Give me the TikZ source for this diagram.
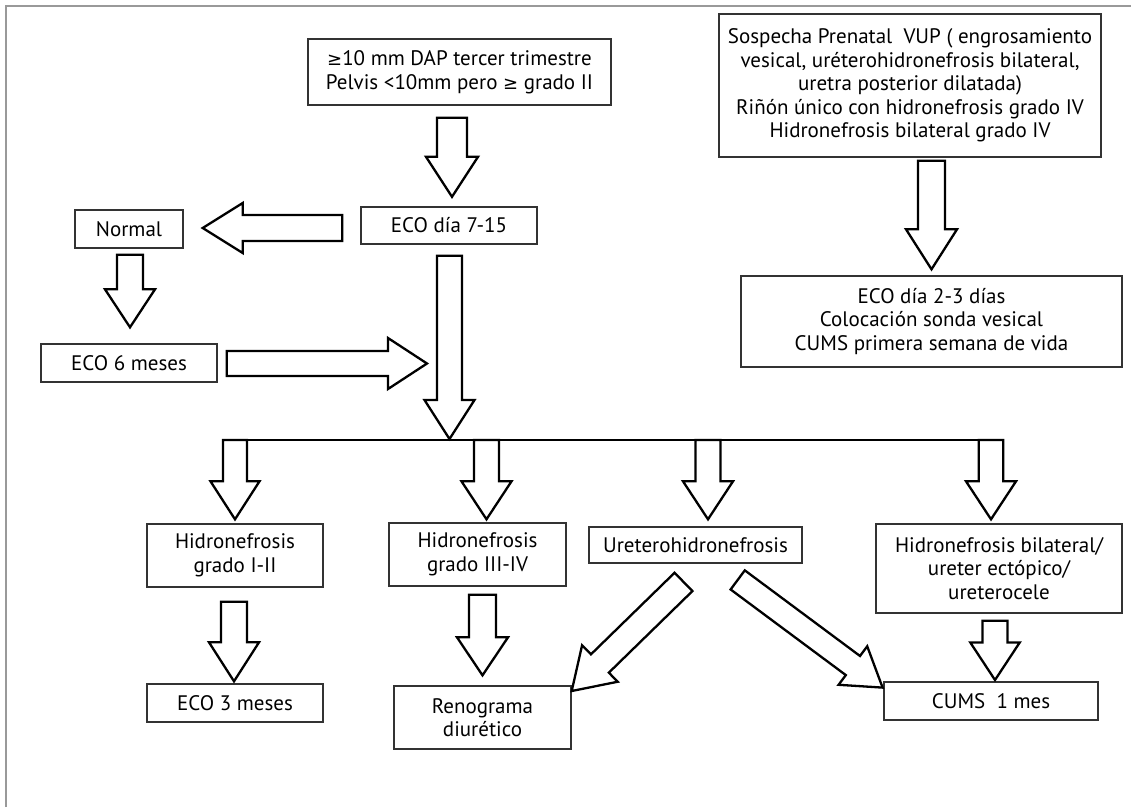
\documentclass[tikz,border=0pt]{standalone}
\usepackage{fontspec}
\setmainfont{PT Sans}
\newfontfamily\symfont{DejaVu Sans}
\usetikzlibrary{calc}
\newcommand\geqsym{{\symfont\fontsize{18}{20}\selectfont ≥}}
\newcommand\blockarrow[5]{%
  \path #1 coordinate (baS) #2 coordinate (baE);
  \pgfpointdiff{\pgfpointanchor{baS}{center}}{\pgfpointanchor{baE}{center}}%
  \pgfgetlastxy{\baDX}{\baDY}%
  \pgfmathsetmacro\baAng{atan2(\baDY,\baDX)}%
  \pgfmathsetmacro\baLen{veclen(\baDX,\baDY)}%
  \pgfmathsetmacro\baNeck{\baLen-#5}%
  \draw[blockarr, shift={(baS)}, rotate=\baAng]
    (0pt,#3pt) -- (\baNeck pt,#3pt) -- (\baNeck pt,#4pt) -- (\baLen pt,0pt)
    -- (\baNeck pt,-#4pt) -- (\baNeck pt,-#3pt) -- (0pt,-#3pt) -- cycle;
}
\begin{document}
\begin{tikzpicture}[x=1pt,y=-1pt,
  flowbox/.style={draw=black!80, line width=1.4pt, inner sep=0pt, align=center,
    font=\fontsize{21}{23.5}\selectfont, text=black},
  blockarr/.style={draw=black, line width=2.3pt, fill=white, line join=miter},
  frameline/.style={draw=black!40, line width=1.5pt},
  branchline/.style={draw=black, line width=2.3pt}]
\useasboundingbox (0,0) rectangle (1131,807);
\draw[frameline] (6,807) -- (6,6) -- (1131,6);

\node[flowbox, minimum width=303pt, minimum height=66pt] (top) at (459.5,72)
  {\geqsym10 mm DAP tercer trimestre\\Pelvis <10mm pero \geqsym\ grado II};
\node[flowbox, minimum width=382pt, minimum height=143pt] (vup) at (910,85.5)
  {Sospecha Prenatal\ \ VUP ( engrosamiento\\vesical, uréterohidronefrosis bilateral,\\uretra posterior dilatada)\\Riñón único con hidronefrosis grado IV\\Hidronefrosis bilateral grado IV};
\node[flowbox, minimum width=381pt, minimum height=91pt] (eco23) at (931.5,321.5)
  {ECO día 2-3 días\\Colocación sonda vesical\\CUMS primera semana de vida};
\node[flowbox, minimum width=176pt, minimum height=37pt] (eco715) at (449,225.5) {ECO día 7-15};
\node[flowbox, minimum width=108pt, minimum height=38pt] (normal) at (129,229) {Normal};
\node[flowbox, minimum width=176pt, minimum height=38pt] (eco6) at (129,363) {ECO 6 meses};
\node[flowbox, minimum width=176pt, minimum height=63pt] (h12) at (235,555.5) {Hidronefrosis\\grado I-II};
\node[flowbox, minimum width=176pt, minimum height=38pt] (eco3) at (235,703) {ECO 3 meses};
\node[flowbox, minimum width=177pt, minimum height=63pt] (h34) at (477.5,554.5) {Hidronefrosis\\grado III-IV};
\node[flowbox, minimum width=177pt, minimum height=63pt] (reno) at (482.5,717.5) {Renograma\\diurético};
\node[flowbox, minimum width=213pt, minimum height=36pt] (uret) at (695.5,545) {Ureterohidronefrosis};
\node[flowbox, minimum width=246pt, minimum height=89pt] (hbil) at (999,568.5)
  {Hidronefrosis bilateral/\\ureter ectópico/\\ureterocele};
\node[flowbox, minimum width=214pt, minimum height=38pt] (cums) at (991,701) {CUMS\ \ 1 mes};

\coordinate (junction) at (449.5,440);
\coordinate (lineL) at ($(h12.north |- junction)+(-12,0)$);
\coordinate (lineR) at ($(hbil.north |- junction)+(4.3,0)$);

% upper flow
\blockarrow{($(top.south)+(-7.5,12)$)}{($(eco715.north)+(3,-9.5)$)}{15}{26}{40}
\blockarrow{($(eco715.west)+(-18,2.5)$)}{($(normal.east)+(19,-1)$)}{13}{25}{40}
\blockarrow{($(normal.south)+(1,6)$)}{($(eco6.north)+(1,-16)$)}{13}{25}{38}
\blockarrow{($(eco6.east)+(9,0.5)$)}{($(eco6.east -| eco715.south)+(-22,0.5)$)}{12.5}{25.5}{39}
\blockarrow{($(eco715.south)+(0.5,11)$)}{($(junction)+(0,-1)$)}{12.5}{25}{39}
\blockarrow{($(vup.south)+(21.5,3)$)}{($(eco23.north)+(0,-6)$)}{13.5}{25.5}{40}

% branch line
\draw[branchline] (lineL) -- (lineR);
\blockarrow{(h12.north |- junction)}{($(h12.north)+(0,-4)$)}{12}{24.5}{38}
\blockarrow{($(h34.north |- junction)+(9,0)$)}{($(h34.north)+(9,-3)$)}{12.5}{25}{38}
\blockarrow{($(uret.north |- junction)+(12.5,0)$)}{($(uret.north)+(12.5,-7)$)}{12.5}{25}{38}
\blockarrow{($(hbil.north |- junction)+(-8,0)$)}{($(hbil.north)+(-8,-4)$)}{12.3}{25}{38}

% lower flow
\blockarrow{($(h12.south)+(-1,14)$)}{($(eco3.north)+(-1,-2)$)}{13}{25}{39}
\blockarrow{($(h34.south)+(5,8)$)}{($(reno.north)+(0,-10)$)}{13.5}{25.5}{38}
\blockarrow{($(hbil.south)+(-4,7)$)}{($(cums.north)+(4,-1.3)$)}{12.5}{24.7}{37.5}
\blockarrow{($(uret.south)+(-12,18.2)$)}{($(reno.north east)+(0,5.7)$)}{12.8}{25.5}{39.4}
\blockarrow{($(uret.south)+(42.2,16.2)$)}{($(cums.north west)+(-0.7,6.3)$)}{11.9}{24}{37}
\end{tikzpicture}
\end{document}
